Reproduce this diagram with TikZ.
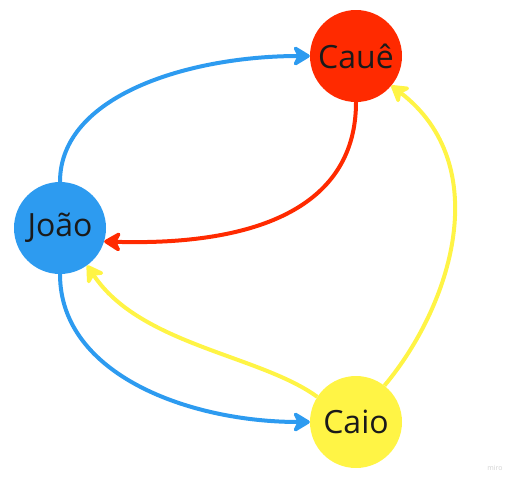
\documentclass[tikz,border=0pt]{standalone}
\usepackage{fontspec}
\setmainfont{Open Sans}
\usetikzlibrary{arrows.meta}
\definecolor{mblue}{HTML}{2D9BF0}
\definecolor{mred}{HTML}{FF2A00}
\definecolor{myellow}{HTML}{FFF445}
\definecolor{mtext}{HTML}{1A1A1A}
\tikzset{
  person/.style={circle, minimum size=92pt, inner sep=0pt, text=mtext, font=\fontsize{32}{32}\selectfont},
  link/.style={line width=4pt, -{Stealth[length=20pt,width=24pt,inset=6pt,round]}},
}
\begin{document}
\begin{tikzpicture}[x=1pt,y=-1pt]
\useasboundingbox (0,0) rectangle (516,483);
\node[person, fill=mred] (cu) at (356,56) {Cauê};
\node[person, fill=mblue] (jo) at (60,228) {João};
\node[person, fill=myellow] (ci) at (356,422) {Caio};
\draw[link, mblue] (jo.north) .. controls (60,95) and (190,56) .. (cu.west);
\draw[link, mred] (cu.south) .. controls (356,205) and (260,246) .. (jo.-17);
\draw[link, mblue] (jo.south) .. controls (60,375) and (190,422) .. (ci.west);
\draw[link, myellow] (ci.147) .. controls (260,355) and (140,345) .. (jo.-54);
\draw[link, myellow] (ci.52) .. controls (452,305) and (495,165) .. (cu.-40);
\node[text=black!18, font=\fontsize{7}{7}\selectfont] (wm) at (495,468) {miro};
\end{tikzpicture}
\end{document}
